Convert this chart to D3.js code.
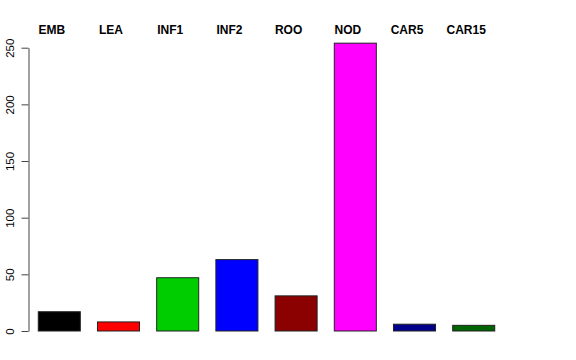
<html>
  <head>
    <script src="https://cdnjs.cloudflare.com/ajax/libs/d3/7.8.5/d3.min.js"></script>
    <style>
    body { margin: 0; background: white; }
    svg { font-family: "Liberation Sans", Arial, sans-serif; }
    </style>
  </head>
  <body>
    <svg width="576" height="360" id="chart"></svg>
    <script>
    // tissue counts
    var categories = ['EMB', 'LEA', 'INF1', 'INF2', 'ROO', 'NOD', 'CAR5', 'CAR15'];
    var counts = [17, 8, 47, 63, 31, 254, 6, 5];
    var barColors = ['#000000', '#FF0000', '#00CD00', '#0000FF', '#8B0000', '#FF00FF', '#00008B', '#006400'];
    var yTicks = [0, 50, 100, 150, 200, 250];

    var svg = d3.select('#chart');

    var x = d3.scaleBand()
      .domain(categories)
      .range([21.1, 511.9])
      .paddingInner(0.29)
      .paddingOuter(0.29);

    var y = d3.scaleLinear()
      .domain([0, 250])
      .range([331, 47.7]);

    // bars
    svg.append('g').selectAll('rect')
      .data(counts)
      .enter()
      .append('rect')
      .attr('x', function(d, i) { return x(categories[i]); })
      .attr('y', function(d) { return y(d); })
      .attr('width', x.bandwidth())
      .attr('height', function(d) { return y(0) - y(d); })
      .attr('fill', function(d, i) { return barColors[i]; })
      .attr('stroke', '#222')
      .attr('stroke-width', 1);

    // labels across the top, nudged left like the original
    svg.append('g').selectAll('text')
      .data(categories)
      .enter()
      .append('text')
      .text(function(d) { return d; })
      .attr('x', function(d) { return x(d) + x.bandwidth() / 2 - 7.5; })
      .attr('y', 34)
      .attr('text-anchor', 'middle')
      .style('font-size', '12px')
      .style('font-weight', 'bold');

    // y axis, R style with vertical labels
    var axis = d3.axisLeft(y)
      .tickValues(yTicks)
      .tickSize(7)
      .tickSizeOuter(0)
      .tickPadding(0);

    var g = svg.append('g')
      .attr('transform', 'translate(28.5,0)')
      .call(axis);
    g.select('.domain').attr('stroke', '#444');
    g.selectAll('.tick line').attr('stroke', '#444');
    g.selectAll('.tick text')
      .attr('x', 0)
      .attr('dy', 0)
      .attr('transform', 'translate(-15,0) rotate(-90)')
      .attr('text-anchor', 'middle')
      .attr('fill', '#000')
      .style('font-family', '"Liberation Sans", Arial, sans-serif')
      .style('font-size', '11.5px');
    </script>
  </body>
</html>
